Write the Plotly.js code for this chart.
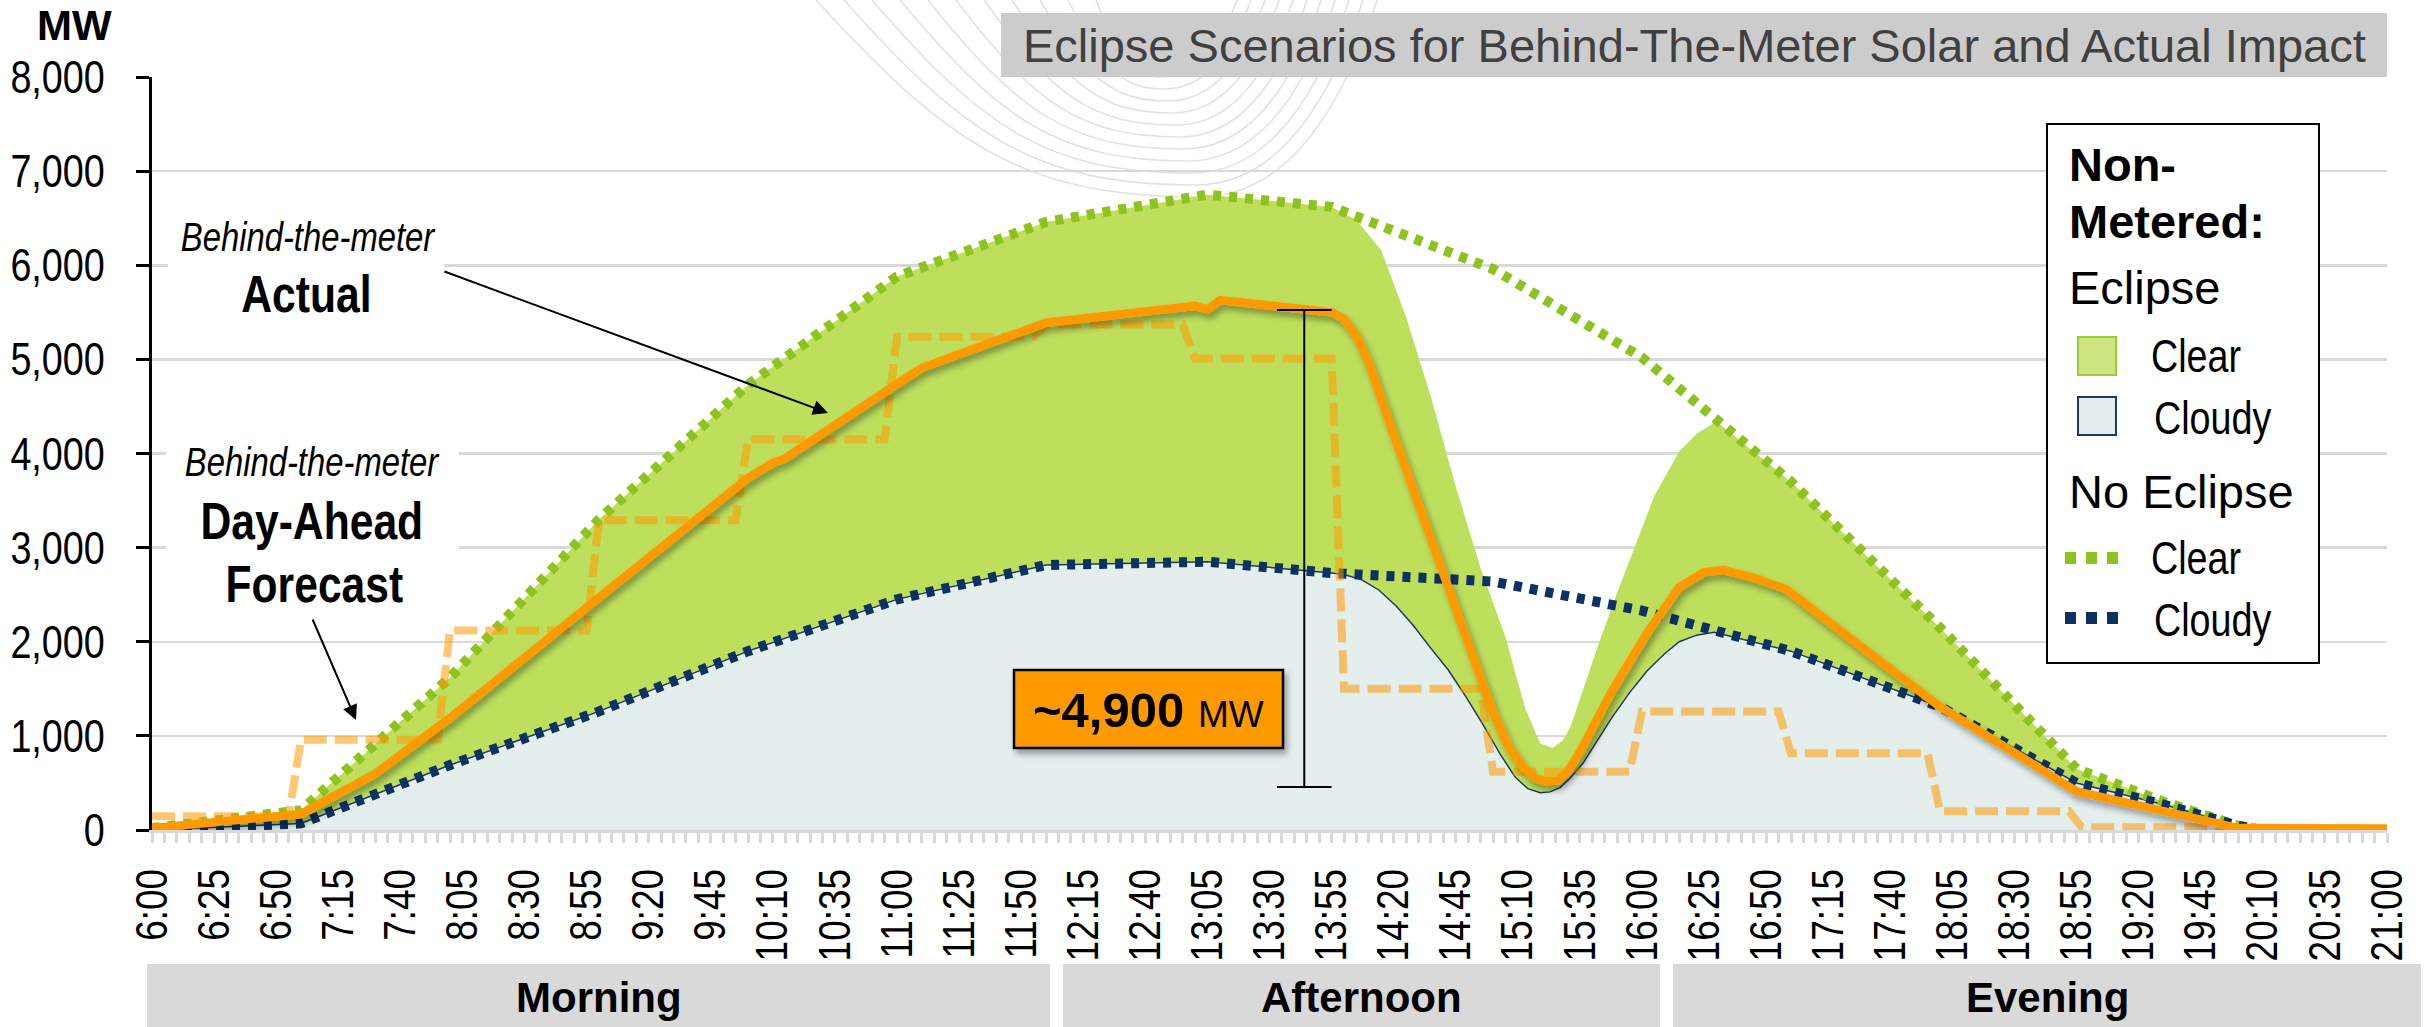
<!DOCTYPE html>
<html><head><meta charset="utf-8">
<script src="https://cdn.plot.ly/plotly-3.0.1.min.js"></script>
<style>html,body{margin:0;padding:0;background:#fff;overflow:hidden}#chart{width:2433px;height:1027px}</style>
</head><body><div id="chart"></div>
<script>
// ---------------- DATA ----------------
const noEclipseClearTimes = ['06:00','07:00','08:00','09:00','10:00','11:00','12:00','13:05','13:55','15:00','16:00','17:00','18:00','18:55','19:30','20:00','20:10','21:00'];
const noEclipseClearMW    = [20,210,1620,3300,4730,5880,6460,6750,6620,5960,5020,3700,2150,650,300,45,0,0];

const noEclipseCloudyTimes = ['06:00','07:00','08:00','09:00','10:00','11:00','12:00','13:05','13:55','15:00','16:00','17:00','18:00','18:55','19:30','20:00','20:10','21:00'];
const noEclipseCloudyMW    = [0,70,690,1260,1900,2450,2815,2850,2730,2640,2330,1900,1310,500,270,45,0,0];

const eclipseClearTimes = ['06:00','07:00','08:00','09:00','10:00','11:00','12:00','13:05','13:55','14:05','14:15','14:25','14:35','14:45','14:55','15:05','15:13','15:19','15:24','15:28','15:31','15:37','15:43','15:50','15:57','16:05','16:15','16:22','16:30','17:00','18:00','18:55','19:30','20:00','20:10','21:00'];
const eclipseClearMW    = [20,210,1620,3300,4730,5880,6460,6750,6620,6480,6160,5450,4600,3650,2780,2050,1290,920,870,950,1080,1550,2010,2520,3000,3550,4020,4210,4340,3700,2150,650,300,45,0,0];

const eclipseCloudyTimes = ['06:00','07:00','08:00','09:00','10:00','11:00','12:00','13:05','13:55','14:00','14:07','14:14','14:21','14:28','14:35','14:42','14:49','14:56','15:03','15:09','15:14','15:19','15:23','15:27','15:31','15:36','15:42','15:48','15:55','16:02','16:09','16:15','16:22','16:29','17:00','18:00','18:55','19:30','20:00','20:10','21:00'];
const eclipseCloudyMW    = [0,70,690,1260,1900,2450,2815,2850,2730,2715,2660,2550,2380,2170,1930,1700,1420,1120,800,560,440,395,405,450,550,700,950,1200,1460,1690,1870,2000,2070,2100,1900,1310,500,270,45,0,0];

const actualTimes = ['06:00','07:00','07:30','08:00','09:00','10:00','10:10','10:15','11:00','11:10','12:00','13:00','13:05','13:10','13:55','14:00','14:05','14:10','14:20','14:35','14:48','15:00','15:06','15:12','15:17','15:21','15:26','15:30','15:35','15:48','16:02','16:15','16:25','16:33','16:45','16:58','17:30','18:00','18:55','19:05','20:00','21:00'];
const actualMW    = [20,170,600,1190,2470,3740,3900,3950,4740,4910,5390,5570,5530,5630,5500,5430,5250,4960,4200,3090,2090,1250,900,670,550,520,525,620,830,1480,2090,2580,2740,2762,2680,2560,1910,1310,410,350,20,15];

const forecastTimes = ['06:00','06:55','07:00','07:55','08:00','08:55','09:00','09:55','10:00','10:55','11:00','11:55','12:00','12:55','13:00','13:55','14:00','14:55','15:00','15:55','16:00','16:55','17:00','17:55','18:00','18:52','18:57','19:55'];
const forecastMW    = [145,145,960,960,2120,2120,3290,3290,4150,4150,5240,5240,5370,5370,5010,5010,1500,1500,620,620,1260,1260,815,815,200,200,30,30];

const yTickVals = [0,1000,2000,3000,4000,5000,6000,7000,8000];
const periods = ['Morning','Afternoon','Evening'];
const titleText = 'Eclipse Scenarios for Behind-The-Meter Solar and Actual Impact';
const gapLabel = '~4,900';
const gapTop = 5525, gapBottom = 457, gapTime = '13:44';

// ---------------- FONTS ----------------
function hasFont(name){
  const c=document.createElement('canvas').getContext('2d');
  const s='Behind-the-meter 8,000 Wg';
  for (const base of ['monospace','serif']){
    c.font='40px '+base; const w0=c.measureText(s).width;
    c.font='40px "'+name+'", '+base; const w1=c.measureText(s).width;
    if (Math.abs(w0-w1)>0.5) return true;
  }
  return false;
}
const narrowOK = hasFont('Liberation Sans Narrow');
const REG = '"Liberation Sans", Arial, sans-serif';
const NARROW = narrowOK ? '"Liberation Sans Narrow", "Arial Narrow", sans-serif' : REG;

// ---------------- GEOMETRY HELPERS ----------------
const L=152, R=2387, T=77, B=830;
const px = x => (x-L)/(R-L);
const py = y => (B-y)/(B-T);
const D = t => '2017-08-21 ' + t;

// ---------------- TRACES ----------------
const traces = [
  {x: eclipseClearTimes.map(D), y: eclipseClearMW, type:'scatter', mode:'lines', fill:'tozeroy', fillcolor:'#bedf5c', line:{width:0, color:'#bedf5c'}, hoverinfo:'skip'},
  {x: eclipseCloudyTimes.map(D), y: eclipseCloudyMW, type:'scatter', mode:'lines', fill:'tozeroy', fillcolor:'#e3eeed', line:{width:1.5, color:'#1f3864'}, hoverinfo:'skip'},
  {x: noEclipseClearTimes.map(D), y: noEclipseClearMW, type:'scatter', mode:'lines', line:{color:'#8dc21f', width:10, dash:'8px,8px'}, hoverinfo:'skip'},
  {x: noEclipseCloudyTimes.map(D), y: noEclipseCloudyMW, type:'scatter', mode:'lines', line:{color:'#0b3263', width:10, dash:'8px,8px'}, hoverinfo:'skip'},
  {x: forecastTimes.map(D), y: forecastMW, type:'scatter', mode:'lines', line:{color:'rgba(255,153,0,0.55)', width:8, dash:'23px,8px'}, hoverinfo:'skip'},
  {x: actualTimes.map(D), y: actualMW, type:'scatter', mode:'lines', line:{color:'#ff9900', width:8.5}, hoverinfo:'skip'}
];

// ---------------- SHAPES ----------------
const shapes = [];
// faint eclipse watermark arcs
for (let i=0;i<11;i++){
  const yb=197-12*i, xl=816+28*i, xr=1377-14*i, xb=1200-4*i;
  const p = (x,y)=>px(x).toFixed(5)+','+py(y).toFixed(5);
  const path = 'M '+p(xl,0)+' C '+p(xl+0.35*(xb-xl),yb*0.75)+' '+p(xb-0.45*(xb-xl),yb)+' '+p(xb,yb)+
               ' C '+p(xb+0.4*(xr-xb),yb)+' '+p(xr-0.25*(xr-xb),yb*0.7)+' '+p(xr,0);
  shapes.push({type:'path', xref:'paper', yref:'paper', path, line:{color:'#e2e2e2', width:1.6}, layer:'below'});
}
const rectP = (x0,y0,x1,y1,fill,line,layer)=>({type:'rect', xref:'paper', yref:'paper', x0:px(x0), x1:px(x1), y0:py(y1), y1:py(y0), fillcolor:fill, line:line||{width:0}, layer:layer||'above'});
const lineP = (x0,y0,x1,y1,line)=>({type:'line', xref:'paper', yref:'paper', x0:px(x0), x1:px(x1), y0:py(y0), y1:py(y1), line, layer:'above'});
// title box
shapes.push(rectP(1001,13,2387,77,'#cccccc'));
// white boxes behind left labels
shapes.push(rectP(168,215,444,322,'#ffffff'));
shapes.push(rectP(166,440,459,612,'#ffffff'));
// key lines on the left
shapes.push(lineP(263,199,357,199,{color:'#ff9900', width:7}));
shapes.push(lineP(264,414,357,414,{color:'rgba(255,153,0,0.55)', width:8, dash:'24px,8px'}));
// bracket
shapes.push({type:'line', xref:'x', yref:'y', x0:D(gapTime), x1:D(gapTime), y0:gapBottom, y1:gapTop, line:{color:'#000', width:2}, layer:'above'});
shapes.push({type:'line', xref:'x', yref:'y', x0:D('13:33'), x1:D('13:55'), y0:gapTop, y1:gapTop, line:{color:'#000', width:2}, layer:'above'});
shapes.push({type:'line', xref:'x', yref:'y', x0:D('13:33'), x1:D('13:55'), y0:gapBottom, y1:gapBottom, line:{color:'#000', width:2}, layer:'above'});
// value box
shapes.push(rectP(1014,670,1283,748,'#ff9900',{color:'#000', width:2.5}));
// legend
shapes.push(rectP(2047,124,2319,663,'#ffffff',{color:'#000', width:2}));
shapes.push(rectP(2078,337,2116,375,'#cde57f',{color:'#9acd32', width:2}));
shapes.push(rectP(2078,397,2116,435,'#e3eeed',{color:'#1f3864', width:2}));
shapes.push(lineP(2065,558,2128,558,{color:'#8dc21f', width:12, dash:'11px,10px'}));
shapes.push(lineP(2065,618,2128,618,{color:'#0b3263', width:12, dash:'11px,10px'}));
// period bars
const barX = [[147,1050],[1063,1660],[1673,2421]];
barX.forEach(b=>shapes.push(rectP(b[0],964,b[1],1027,'#d9d9d9')));

// ---------------- ANNOTATIONS ----------------
const anns = [];
const narrowIdx = [];
function txt(text,x,y,narrow,size,opts){
  const a = Object.assign({text, x:px(x), y:py(y), xref:'paper', yref:'paper', showarrow:false, xanchor:'center', yanchor:'middle',
                           font:{family: narrow?NARROW:REG, size, color:'#000'}}, opts||{});
  if (narrow) narrowIdx.push(anns.length);
  anns.push(a);
}
txt('<b>MW</b>', 74, 25, false, 42);
txt(titleText, 1694, 45, false, 47, {font:{family:REG,size:47,color:'#404040'}});
txt('<i>Behind-the-meter</i>', 308, 237, true, 40);
txt('<b>Actual</b>', 306, 294, true, 52);
txt('<i>Behind-the-meter</i>', 312, 462, true, 40);
txt('<b>Day-Ahead</b>', 312, 521, true, 52);
txt('<b>Forecast</b>', 314, 584, true, 52);
txt('<b>'+gapLabel+'</b> <span style="font-size:37px">MW</span>', 1148, 710, false, 49);
// legend texts
txt('<b>Non-</b>', 2067, 164, false, 47, {xanchor:'left'});
txt('<b>Metered:</b>', 2067, 221, false, 47, {xanchor:'left'});
txt('Eclipse', 2067, 287, false, 47, {xanchor:'left'});
txt('Clear', 2139, 356, true, 46, {xanchor:'left'});
txt('Cloudy', 2139, 418, true, 46, {xanchor:'left'});
txt('No Eclipse', 2067, 492, false, 47, {xanchor:'left'});
txt('Clear', 2139, 558, true, 46, {xanchor:'left'});
txt('Cloudy', 2139, 620, true, 46, {xanchor:'left'});
// period labels
periods.forEach((p,i)=>txt('<b>'+p+'</b>', (barX[i][0]+barX[i][1])/2, 997, false, 42));
// arrows
anns.push({text:'', x:px(828), y:py(413), xref:'paper', yref:'paper', showarrow:true, ax:443-828, ay:271-413, axref:'pixel', ayref:'pixel', arrowhead:2, arrowsize:1.5, arrowwidth:2, arrowcolor:'#000', standoff:0});
anns.push({text:'', x:px(356), y:py(720), xref:'paper', yref:'paper', showarrow:true, ax:312-356, ay:618-720, axref:'pixel', ayref:'pixel', arrowhead:2, arrowsize:1.5, arrowwidth:2, arrowcolor:'#000', standoff:0});

// ---------------- LAYOUT ----------------
const layout = {
  width:2433, height:1027,
  margin:{l:L, r:2433-R, t:T, b:1027-B, pad:0},
  paper_bgcolor:'#ffffff', plot_bgcolor:'#ffffff',
  showlegend:false,
  xaxis:{type:'date', range:[D('06:00'), D('21:00')], tick0:D('06:00'), dtick:25*60000, tickformat:'%-H:%M',
         tickangle:-90, ticks:'outside', ticklen:10, tickwidth:3, tickcolor:'#d9d9d9',
         minor:{dtick:5*60000, ticks:'outside', ticklen:10, tickwidth:3, tickcolor:'#d9d9d9', showgrid:false},
         showgrid:false, zeroline:false, showline:true, linecolor:'#d9d9d9', linewidth:3,
         tickfont:{family:NARROW, size:45, color:'#000'}, ticklabelstandoff:8, fixedrange:true},
  yaxis:{range:[0,8000], tickvals:yTickVals, tickformat:',d', showline:true, linecolor:'#000', linewidth:3,
         ticks:'outside', ticklen:13, tickwidth:3, tickcolor:'#000', showgrid:true, gridcolor:'#d9d9d9', gridwidth:2.5,
         zeroline:false, tickfont:{family:NARROW, size:46, color:'#000'}, ticklabelstandoff:22, fixedrange:true},
  shapes, annotations: anns
};

Plotly.newPlot('chart', traces, layout, {staticPlot:true, displayModeBar:false}).then(gd=>{
  const NS='http://www.w3.org/2000/svg';
  const svg = gd.querySelector('.main-svg');
  let defs = svg.querySelector('defs');
  if (!defs){ defs=document.createElementNS(NS,'defs'); svg.insertBefore(defs, svg.firstChild); }
  const f=document.createElementNS(NS,'filter');
  f.setAttribute('id','shd'); f.setAttribute('x','-20%'); f.setAttribute('y','-20%'); f.setAttribute('width','140%'); f.setAttribute('height','160%');
  const ds=document.createElementNS(NS,'feDropShadow');
  ds.setAttribute('dx','3'); ds.setAttribute('dy','5'); ds.setAttribute('stdDeviation','3');
  ds.setAttribute('flood-color','#000'); ds.setAttribute('flood-opacity','0.35');
  f.appendChild(ds); defs.appendChild(f);
  const tr = gd.querySelectorAll('.scatterlayer .trace');
  const ln = tr[tr.length-1].querySelector('path.js-line'); if (ln) ln.setAttribute('filter','url(#shd)');
  gd.querySelectorAll('.shapelayer path').forEach(p=>{
    const s=p.style; if ((s.fill||'')==='rgb(255, 153, 0)' || (s.stroke||'')==='rgb(255, 153, 0)') p.setAttribute('filter','url(#shd)');
  });
  if (!narrowOK){
    const squeeze = t=>{ const w=t.getComputedTextLength(); if (w>0){ t.setAttribute('textLength',(w*0.82).toFixed(1)); t.setAttribute('lengthAdjust','spacingAndGlyphs'); } };
    gd.querySelectorAll('.xtick text, .ytick text').forEach(squeeze);
    narrowIdx.forEach(i=>{ const t=gd.querySelector('.annotation[data-index="'+i+'"] text.annotation-text'); if (t) squeeze(t); });
  }
});
</script></body></html>
